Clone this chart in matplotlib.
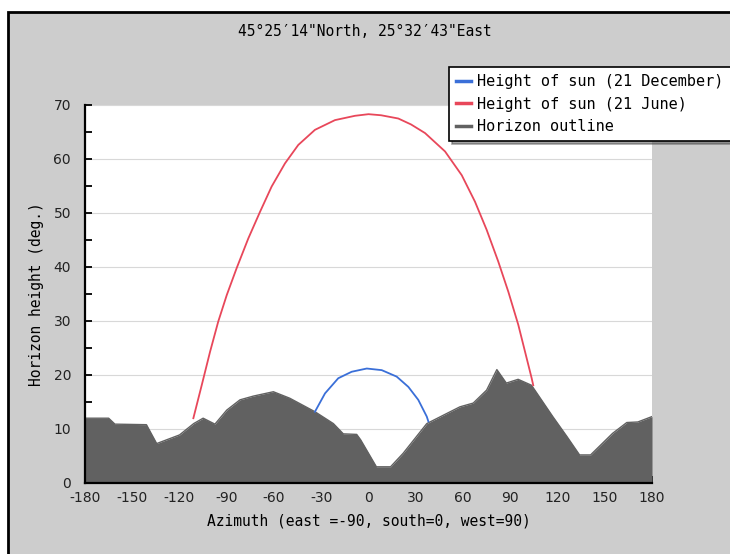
import matplotlib
matplotlib.use('Agg')
from matplotlib import pyplot as plt
from matplotlib.patches import Rectangle
from matplotlib.ticker import MultipleLocator

plt.rcParams['font.family'] = ['DejaVu Sans Mono']
plt.rcParams['axes.unicode_minus'] = False

# horizon outline (azimuth, height)
horizon_az = [-180, -165, -161, -141, -134.5, -120, -111, -105, -97.5, -90, -81.6, -73,
              -60.4, -50, -34, -22.3, -16, -7.5, -5, 1, 5, 14, 22, 37, 58, 66.5, 75,
              81.5, 87.5, 95, 103.5, 117, 126, 134, 141, 155, 164, 171, 180]
horizon_h = [12.0, 12.0, 10.9, 10.8, 7.3, 8.9, 11.0, 12.0, 10.9, 13.5, 15.4, 16.1,
             16.9, 15.7, 13.2, 11.0, 9.1, 9.0, 8.0, 5.0, 3.0, 3.0, 5.5, 11.0, 14.1, 14.8, 17.2,
             21.0, 18.5, 19.2, 18.1, 12.3, 8.6, 5.2, 5.2, 9.2, 11.2, 11.3, 12.3]

# sun 21 June (visible part)
june_az = [-111.2, -105.9, -100.6, -95.4, -90.0, -83.7, -76.3, -68.9, -61.5, -53.0,
           -44.6, -34.0, -21.3, -8.6, 0.0, 8.0, 18.9, 27.0, 35.9, 48.6, 59.2, 67.6, 75.0,
           82.4, 88.8, 95.1, 99.4, 103.6, 104.6]
june_h = [12.0, 18.1, 24.3, 29.9, 34.8, 39.8, 45.3, 50.2, 54.9, 59.2,
          62.6, 65.4, 67.2, 68.0, 68.3, 68.1, 67.5, 66.4, 64.8, 61.4, 57.0, 52.1, 46.9,
          41.0, 35.4, 29.3, 24.3, 19.4, 18.1]

# sun 21 December (visible part)
dec_az = [-34.0, -27.6, -19.2, -10.7, -1.1, 8.4, 17.9, 25.3, 31.6, 37.0, 38.0]
dec_h = [13.2, 16.6, 19.4, 20.6, 21.2, 20.9, 19.7, 17.8, 15.4, 12.3, 11.4]

panel = '#cdcdcd'
hor_col = '#616161'

fig = plt.figure(figsize=(7.3, 5.54), dpi=100, facecolor='white')
fig.patches.append(Rectangle((8/730, -0.05), 1.1, 1 - 12/554 + 0.05, transform=fig.transFigure,
                             facecolor=panel, edgecolor='black', lw=2, zorder=-5))

ax = fig.add_axes([85/730, 1 - 483/554, (652 - 85)/730, (483 - 105)/554])
ax.set_facecolor('white')

ax.fill_between(horizon_az, 0, horizon_h, color=hor_col, lw=0, zorder=2)
ax.plot(horizon_az, horizon_h, color=hor_col, lw=1, zorder=2, label='Horizon outline')
ax.plot(dec_az, dec_h, color='#3a6fd8', lw=1.3, zorder=3, label='Height of sun (21 December)')
ax.plot(june_az, june_h, color='#e8475a', lw=1.3, zorder=3, label='Height of sun (21 June)')

ax.set_xlim(-180, 180)
ax.set_ylim(0, 70)
ax.xaxis.set_major_locator(MultipleLocator(30))
ax.yaxis.set_major_locator(MultipleLocator(10))
ax.yaxis.set_minor_locator(MultipleLocator(5))
ax.grid(axis='y', which='major', color='#d8d8d8', lw=0.8, zorder=1)
ax.set_axisbelow(True)

for s in ['top', 'right']:
    ax.spines[s].set_visible(False)
for s in ['left', 'bottom']:
    ax.spines[s].set_linewidth(1.6)
    ax.spines[s].set_zorder(4)

ax.tick_params(which='both', direction='in', width=1.3, colors='black')
ax.tick_params(which='major', length=5, pad=6)
ax.tick_params(which='minor', length=5)
ax.tick_params(axis='y', pad=10)
for lab in ax.get_xticklabels() + ax.get_yticklabels():
    lab.set_family('DejaVu Sans')
    lab.set_fontsize(10)
    lab.set_color('#222222')

ax.set_xlabel('Azimuth (east =-90, south=0, west=90)', fontsize=10.5, labelpad=6)
ax.set_ylabel('Horizon height (deg.)', fontsize=10.5, labelpad=7)

fig.text(365/730, 1 - 32/554, '45°25′14"North, 25°32′43"East', ha='center', va='center', fontsize=10.5)

handles, labels = ax.get_legend_handles_labels()
order = [1, 2, 0]
leg = fig.legend([handles[i] for i in order], [labels[i] for i in order],
                 loc='upper left', bbox_to_anchor=(449/730, 1 - 67/554),
                 fontsize=11, frameon=True, fancybox=False, shadow=True,
                 handlelength=1.0, handletextpad=0.4, labelspacing=0.5,
                 borderpad=0.45, borderaxespad=0)
leg.get_frame().set_edgecolor('black')
leg.get_frame().set_linewidth(1.2)
for l in leg.get_lines():
    l.set_linewidth(2.5)

fig.savefig('out.png', dpi=100, facecolor=fig.get_facecolor())
